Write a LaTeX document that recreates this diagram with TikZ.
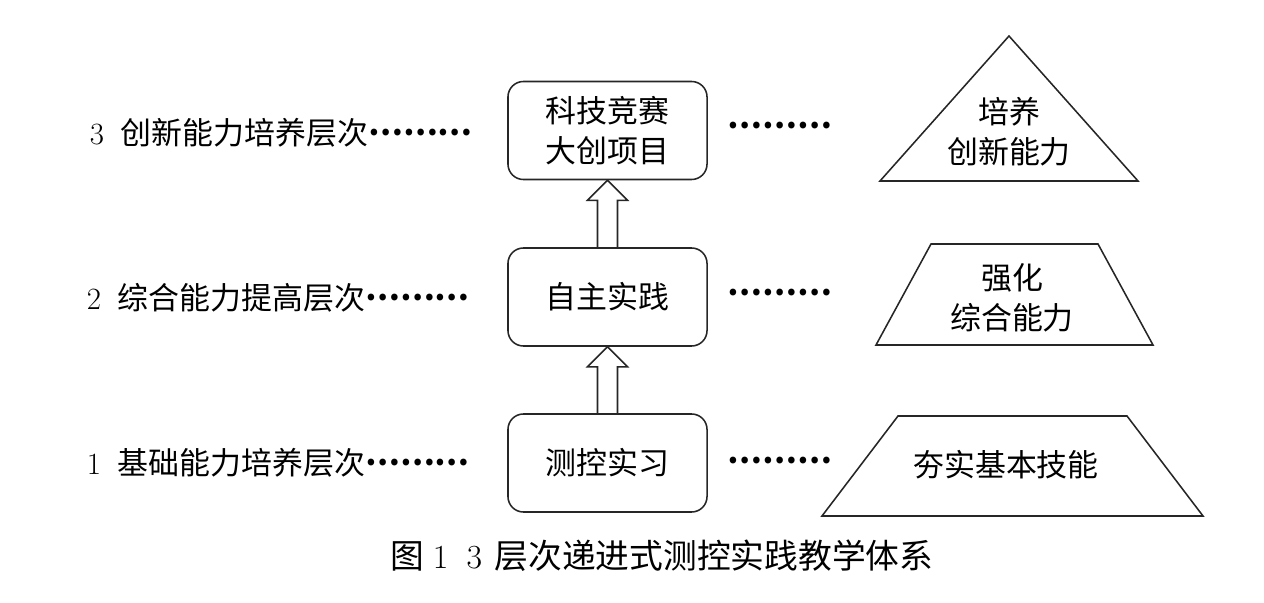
\documentclass[tikz,border=0pt]{standalone}
\usepackage{fontspec}
\newfontfamily\cjk{Noto Sans CJK SC}
\usetikzlibrary{calc}
\newcommand{\dotrow}{\raisebox{0.3em}{\bfseries ………}}
\begin{document}
\begin{tikzpicture}[
        x=0.025cm, y=-0.025cm,
        stage/.style={
            draw=black!85,
            line width=1.1pt,
            rounded corners=11pt,
            minimum width=4.975cm,
            minimum height=2.45cm,
            align=center,
            inner sep=0pt,
            font=\cjk\fontsize{22}{28.5}\selectfont
        },
        tag/.style={
            inner sep=0pt,
            anchor=east,
            font=\cjk\fontsize{22}{28.5}\selectfont
        },
        goal/.style={
            inner sep=0pt,
            align=center,
            font=\cjk\fontsize{22}{28.5}\selectfont
        },
        block/.style={
            draw=black!85,
            line width=1.1pt,
            line join=miter
        }
    ]

        \useasboundingbox (0, 0) rectangle (1264, 603);

        % left: level names
        \node[tag] (t3) at (473, 133) {{\rmfamily 3}\hspace{12pt}创新能力培养层次\dotrow};
        \node[tag] (t2) at (470, 298) {{\rmfamily 2}\hspace{12pt}综合能力提高层次\dotrow};
        \node[tag] (t1) at (470, 463) {{\rmfamily 1}\hspace{12pt}基础能力培养层次\dotrow};

        % middle: practice stages
        \node[stage] (s3) at (607.5, 130.5) {科技竞赛\\大创项目};
        \node[stage] (s2) at (607.5, 297) {自主实践};
        \node[stage] (s1) at (607.5, 463) {测控实习};

        \draw[block] ($(s1.north)+(-10, 0)$) -- ($(s2.south)+(-10, 20)$)
            -- ($(s2.south)+(-20, 20)$) -- (s2.south)
            -- ($(s2.south)+(20, 20)$) -- ($(s2.south)+(10, 20)$)
            -- ($(s1.north)+(10, 0)$);
        \draw[block] ($(s2.north)+(-10, 0)$) -- ($(s3.south)+(-10, 20)$)
            -- ($(s3.south)+(-20, 20)$) -- (s3.south)
            -- ($(s3.south)+(20, 20)$) -- ($(s3.south)+(10, 20)$)
            -- ($(s2.north)+(10, 0)$);

        \node[goal] (d3) at (780, 130) {\dotrow};
        \node[goal] (d2) at (780, 297) {\dotrow};
        \node[goal] (d1) at (780, 465) {\dotrow};

        % right: aims
        \draw[block] (1009, 36) -- (1138, 181) -- (880, 181) -- cycle;
        \draw[block] (931, 244) -- (1098, 244) -- (1153, 345) -- (876, 345) -- cycle;
        \draw[block] (898, 416) -- (1127, 416) -- (1203, 516) -- (822, 516) -- cycle;

        \node[goal] (g3) at (1009, 132) {培养\\创新能力};
        \node[goal] (g2) at (1012, 298) {强化\\综合能力};
        \node[goal] (g1) at (1006, 465) {夯实基本技能};

        \node[inner sep=0pt, font=\fontsize{24}{28}\selectfont] (cap) at (662, 556)
            {{\cjk 图}\hspace{6pt}1\hspace{13pt}3\hspace{9pt}{\cjk 层次递进式测控实践教学体系}};

\end{tikzpicture}
\end{document}
